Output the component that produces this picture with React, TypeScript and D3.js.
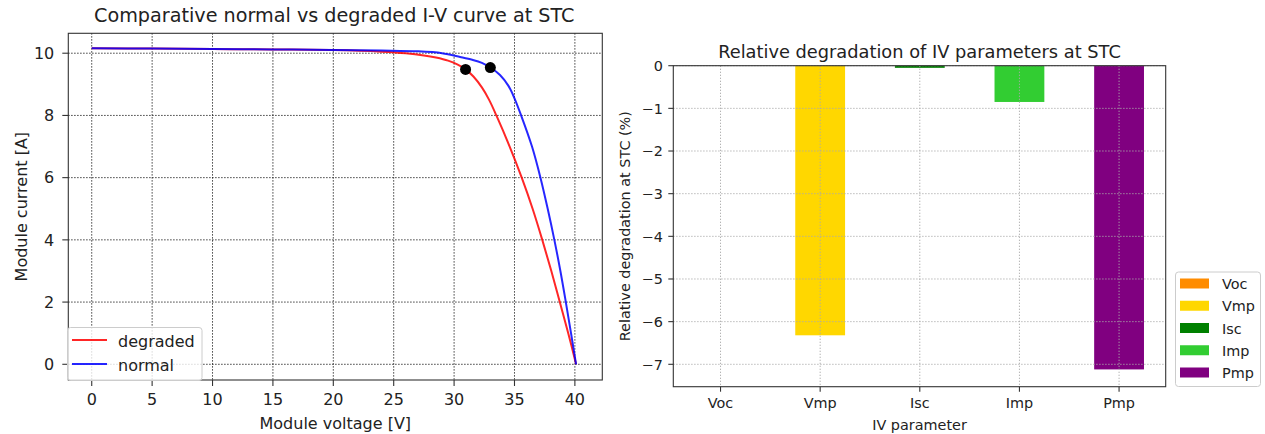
import React from "react";
import * as d3 from "d3";

// ---------- Left chart data ----------
const V_NORMAL = [0, 5, 10, 15, 20, 24, 27, 29, 30.5, 31.5, 32.3, 33.0, 33.8, 34.5, 35.0, 35.55, 36.45, 37.15, 37.75, 38.3, 38.8, 39.25, 39.68, 40.1];
const I_NORMAL = [10.16, 10.15, 10.135, 10.12, 10.105, 10.085, 10.06, 10.0, 9.88, 9.79, 9.69, 9.54, 9.3, 8.95, 8.55, 8.0, 7.0, 6.0, 5.0, 4.0, 3.0, 2.0, 1.0, 0];
const V_DEGRADED = [0, 5, 10, 15, 20, 24, 26, 27.5, 28.5, 29.5, 30.3, 30.95, 31.6, 32.3, 32.9, 33.5, 34.6, 35.6, 36.5, 37.3, 38.05, 38.75, 39.45, 40.1];
const I_DEGRADED = [10.16, 10.15, 10.135, 10.12, 10.1, 10.05, 10.0, 9.93, 9.86, 9.76, 9.63, 9.48, 9.25, 8.9, 8.5, 8.0, 7.0, 6.0, 5.0, 4.0, 3.0, 2.0, 1.0, 0];
const MPP_V = [30.95, 33.0];
const MPP_I = [9.48, 9.54];
const X_TICKS = [0, 5, 10, 15, 20, 25, 30, 35, 40];
const Y_TICKS = [0, 2, 4, 6, 8, 10];

// ---------- Right chart data ----------
const PARAMS = ["Voc", "Vmp", "Isc", "Imp", "Pmp"];
const DEGRADATION = [0, -6.32, -0.05, -0.85, -7.12];
const BAR_COLORS = ["#ff8c00", "#ffd700", "#008000", "#32cd32", "#800080"];
const DEG_TICKS = [0, -1, -2, -3, -4, -5, -6, -7];

const FONT = "'DejaVu Sans', sans-serif";
const TXT = "#222";
const SPINE = "#333";

function fmt(v: number) {
  return v < 0 ? "\u2212" + Math.abs(v) : String(v);
}

export default function App() {
  // Left axes box
  const L = { x0: 68.3, x1: 602.3, y0: 33.3, y1: 380 };
  const x = d3.scaleLinear().domain([-1.94, 42.27]).range([L.x0, L.x1]);
  const y = d3.scaleLinear().domain([-0.505, 10.64]).range([L.y1, L.y0]);
  const line = d3
    .line<[number, number]>()
    .x((d) => x(d[0]))
    .y((d) => y(d[1]))
    .curve(d3.curveCatmullRom.alpha(0.5));
  const normalPts = V_NORMAL.map((v, i) => [v, I_NORMAL[i]] as [number, number]);
  const degPts = V_DEGRADED.map((v, i) => [v, I_DEGRADED[i]] as [number, number]);

  // Right axes box
  const R = { x0: 673.3, x1: 1165.7, y0: 65.7, y1: 386.7 };
  const xb = d3.scaleLinear().domain([-0.474, 4.468]).range([R.x0, R.x1]);
  const yb = d3.scaleLinear().domain([-7.525, 0]).range([R.y1, R.y0]);
  const barW = 0.5;

  const fsL = 16;
  const fsR = 14.4;

  return (
    <svg width={1265} height={434} style={{ position: "absolute", left: 0, top: 0, background: "#fff" }} fontFamily={FONT}>
      <rect x={0} y={0} width={1265} height={434} fill="#fff" />

      {/* ================= LEFT CHART ================= */}
      <g>
        {X_TICKS.map((t) => (
          <line key={"gx" + t} x1={x(t)} x2={x(t)} y1={L.y0} y2={L.y1} stroke="#111" strokeWidth={1} strokeDasharray="1.2,1.8" />
        ))}
        {Y_TICKS.map((t) => (
          <line key={"gy" + t} x1={L.x0} x2={L.x1} y1={y(t)} y2={y(t)} stroke="#111" strokeWidth={1} strokeDasharray="1.2,1.8" />
        ))}
        <path d={line(degPts) || ""} fill="none" stroke="#ff0000" strokeOpacity={0.85} strokeWidth={2} />
        <path d={line(normalPts) || ""} fill="none" stroke="#0000ff" strokeOpacity={0.85} strokeWidth={2} />
        {MPP_V.map((v, i) => (
          <circle key={"m" + i} cx={x(v)} cy={y(MPP_I[i])} r={5.5} fill="#000" />
        ))}
        <rect x={L.x0} y={L.y0} width={L.x1 - L.x0} height={L.y1 - L.y0} fill="none" stroke={SPINE} strokeWidth={1.1} />
        {X_TICKS.map((t) => (
          <g key={"tx" + t}>
            <line x1={x(t)} x2={x(t)} y1={L.y1} y2={L.y1 + 6} stroke={SPINE} strokeWidth={1.1} />
            <text x={x(t)} y={L.y1 + 25} textAnchor="middle" fontSize={fsL} fill={TXT}>
              {t}
            </text>
          </g>
        ))}
        {Y_TICKS.map((t) => (
          <g key={"ty" + t}>
            <line x1={L.x0 - 6} x2={L.x0} y1={y(t)} y2={y(t)} stroke={SPINE} strokeWidth={1.1} />
            <text x={L.x0 - 14} y={y(t) + 5.8} textAnchor="end" fontSize={fsL} fill={TXT}>
              {t}
            </text>
          </g>
        ))}
        <text x={(L.x0 + L.x1) / 2 - 1} y={22} textAnchor="middle" fontSize={19.2} fill={TXT}>
          Comparative normal vs degraded I-V curve at STC
        </text>
        <text x={(L.x0 + L.x1) / 2} y={429} textAnchor="middle" fontSize={fsL} fill={TXT}>
          Module voltage [V]
        </text>
        <text transform={`translate(27,${(L.y0 + L.y1) / 2}) rotate(-90)`} textAnchor="middle" fontSize={fsL} fill={TXT}>
          Module current [A]
        </text>
        <g>
          <rect x={67.5} y={327.5} width={134.5} height={53} rx={3} fill="#fff" fillOpacity={0.8} stroke="#cccccc" strokeWidth={1} />
          <line x1={72} x2={107} y1={340} y2={340} stroke="#ff0000" strokeOpacity={0.85} strokeWidth={2} />
          <text x={118} y={346.5} fontSize={fsL} fill={TXT}>degraded</text>
          <line x1={72} x2={107} y1={364} y2={364} stroke="#0000ff" strokeOpacity={0.85} strokeWidth={2} />
          <text x={118} y={370.5} fontSize={fsL} fill={TXT}>normal</text>
        </g>
      </g>

      {/* ================= RIGHT CHART ================= */}
      <g>
        {PARAMS.map((p, i) => (
          <rect
            key={"b" + p}
            x={xb(i - barW / 2)}
            width={xb(barW) - xb(0)}
            y={yb(Math.max(0, DEGRADATION[i]))}
            height={Math.abs(yb(DEGRADATION[i]) - yb(0))}
            fill={BAR_COLORS[i]}
          />
        ))}
        {PARAMS.map((p, i) => (
          <line key={"gbx" + p} x1={xb(i)} x2={xb(i)} y1={R.y0} y2={R.y1} stroke="#aaaaaa" strokeWidth={1} strokeDasharray="1.2,1.8" />
        ))}
        {DEG_TICKS.map((t) => (
          <line key={"gby" + t} x1={R.x0} x2={R.x1} y1={yb(t)} y2={yb(t)} stroke="#aaaaaa" strokeWidth={1} strokeDasharray="1.2,1.8" />
        ))}
        <rect x={R.x0} y={R.y0} width={R.x1 - R.x0} height={R.y1 - R.y0} fill="none" stroke={SPINE} strokeWidth={1.1} />
        {PARAMS.map((p, i) => (
          <g key={"tbx" + p}>
            <line x1={xb(i)} x2={xb(i)} y1={R.y1} y2={R.y1 + 5} stroke={SPINE} strokeWidth={1.1} />
            <text x={xb(i)} y={R.y1 + 21} textAnchor="middle" fontSize={fsR} fill={TXT}>
              {p}
            </text>
          </g>
        ))}
        {DEG_TICKS.map((t) => (
          <g key={"tby" + t}>
            <line x1={R.x0 - 5} x2={R.x0} y1={yb(t)} y2={yb(t)} stroke={SPINE} strokeWidth={1.1} />
            <text x={R.x0 - 10.5} y={yb(t) + 5.2} textAnchor="end" fontSize={fsR} fill={TXT}>
              {fmt(t)}
            </text>
          </g>
        ))}
        <text x={(R.x0 + R.x1) / 2} y={58} textAnchor="middle" fontSize={17.8} fill={TXT}>
          Relative degradation of IV parameters at STC
        </text>
        <text x={(R.x0 + R.x1) / 2} y={430} textAnchor="middle" fontSize={fsR} fill={TXT}>
          IV parameter
        </text>
        <text transform={`translate(630,${(R.y0 + R.y1) / 2}) rotate(-90)`} textAnchor="middle" fontSize={fsR} fill={TXT}>
          Relative degradation at STC (%)
        </text>
        <g>
          <rect x={1175.5} y={272} width={85} height={114.5} rx={3} fill="#fff" fillOpacity={0.8} stroke="#cccccc" strokeWidth={1} />
          {PARAMS.map((p, i) => (
            <g key={"lg" + p}>
              <rect x={1180} y={278.5 + i * 22.25} width={29} height={10} fill={BAR_COLORS[i]} />
              <text x={1222} y={289 + i * 22.25} fontSize={fsR} fill={TXT}>
                {p}
              </text>
            </g>
          ))}
        </g>
      </g>
    </svg>
  );
}
